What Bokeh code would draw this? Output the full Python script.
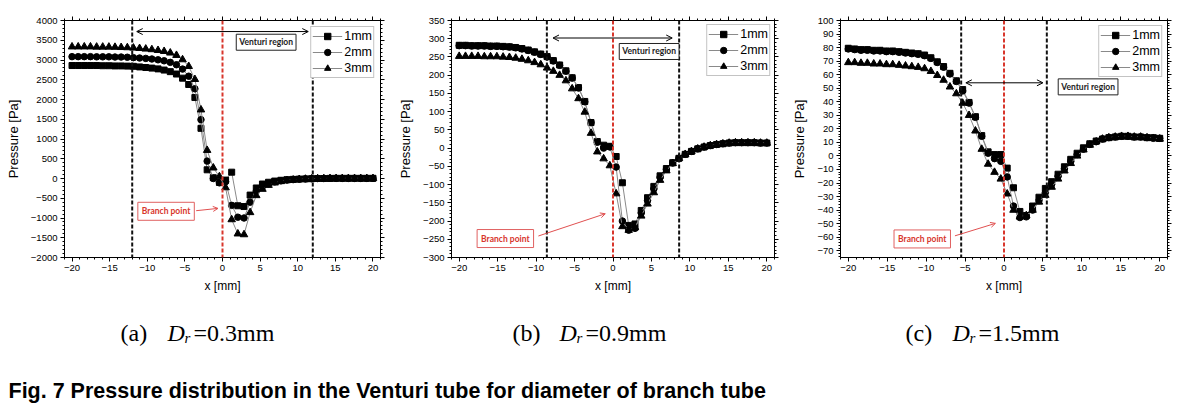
from bokeh.plotting import figure
from bokeh.models import (Range1d, LinearAxis, SingleIntervalTicker, Span, Arrow,
                          OpenHead, Label, CustomLabelingPolicy)
from bokeh.layouts import column, row
from bokeh.embed import file_html
from bokeh.resources import INLINE
from bokeh.core.properties import value

# ---------------- data ----------------
x_mm = [-20.00, -19.18, -18.37, -17.55, -16.73, -15.92, -15.10, -14.29, -13.47, -12.65,
        -11.84, -11.02, -10.20, -9.39, -8.57, -7.76, -6.94, -6.12, -5.31, -4.49,
        -3.67, -2.86, -2.04, -1.22, -0.41, 0.41, 1.22, 2.04, 2.86, 3.67,
        4.49, 5.31, 6.12, 6.94, 7.76, 8.57, 9.39, 10.20, 11.02, 11.84,
        12.65, 13.47, 14.29, 15.10, 15.92, 16.73, 17.55, 18.37, 19.18, 20.00]

series_names = ["1mm", "2mm", "3mm"]

p_a_1mm = [2860, 2860, 2860, 2860, 2860, 2855, 2855, 2850, 2850, 2845,
           2840, 2825, 2810, 2795, 2775, 2745, 2705, 2645, 2540, 2380,
           2050, 1270, 220, 20, -100, -40, 160, -690, -710, -420,
           -240, -140, -95, -65, -45, -30, -22, -15, -10, -5,
           0, 0, 3, 5, 5, 5, 5, 5, 5, 5]
p_a_2mm = [3085, 3085, 3085, 3085, 3080, 3080, 3080, 3075, 3075, 3070,
           3060, 3050, 3040, 3025, 3005, 2980, 2940, 2880, 2770, 2590,
           2270, 1490, 440, 0, -110, -80, -680, -980, -1000, -600,
           -320, -200, -130, -85, -60, -40, -28, -18, -10, -5,
           0, 0, 2, 3, 3, 3, 3, 3, 3, 3]
p_a_3mm = [3335, 3335, 3335, 3335, 3330, 3330, 3330, 3325, 3320, 3315,
           3305, 3295, 3280, 3265, 3245, 3220, 3180, 3120, 3010, 2840,
           2510, 1740, 715, 270, 50, -230, -1040, -1400, -1420, -860,
           -430, -270, -170, -110, -75, -50, -35, -22, -14, -8,
           -3, 0, 2, 3, 3, 3, 3, 3, 3, 3]

p_b_1mm = [282, 282, 281, 281, 281, 280, 280, 279, 278, 276,
           273, 269, 264, 258, 251, 240, 228, 212, 193, 166,
           128, 70, 18, 8, 5, -23, -95, -212, -208, -171,
           -136, -105, -76, -56, -40, -28, -17, -9, -2, 3,
           7, 10, 12, 14, 15, 15, 15, 15, 14, 14]
p_b_2mm = [281, 281, 280, 280, 280, 279, 279, 278, 277, 275,
           272, 268, 263, 257, 250, 239, 227, 211, 192, 165,
           127, 70, 16, 0, 3, -52, -200, -225, -220, -178,
           -144, -112, -80, -58, -41, -28, -17, -9, -2, 3,
           7, 10, 12, 14, 15, 15, 15, 15, 14, 14]
p_b_3mm = [252, 252, 252, 252, 251, 251, 251, 250, 249, 247,
           244, 240, 235, 229, 220, 211, 200, 185, 163, 136,
           99, 41, -10, -29, -48, -125, -215, -225, -218, -186,
           -153, -122, -88, -62, -42, -28, -17, -9, -2, 3,
           7, 10, 12, 14, 15, 15, 15, 15, 14, 14]

p_c_1mm = [79.5, 79, 78.5, 78.5, 78, 78, 77.5, 77.5, 77, 76.5,
           76, 75.5, 74.5, 72.5, 69.5, 66, 61, 55.5, 49, 39.5,
           29, 15, 3, 1, 1, -9, -23.5, -41, -44, -37,
           -30.5, -24, -19, -13.5, -8, -2.5, 2, 6, 9, 11,
           12.5, 13.5, 14, 14.5, 14.5, 14, 14, 13.5, 13.5, 13]
p_c_2mm = [79, 78.5, 78, 78, 77.5, 77.5, 77, 77, 76.5, 76,
           75.5, 75, 74, 72, 69, 65.5, 60.5, 55, 48, 39,
           28.5, 14.5, 2, -2, -4, -15.5, -37, -45.5, -45, -40,
           -33, -27, -21, -15, -9.5, -4, 1, 5, 8.5, 10.5,
           12.5, 13.5, 14, 14.5, 14.5, 14, 14, 13.5, 13, 13]
p_c_3mm = [69, 69, 68.5, 68.5, 68, 68, 67.5, 67.5, 67, 66.5,
           66, 65.5, 64.5, 62.5, 59.5, 56, 51, 46, 39, 30,
           18.5, 5, -6, -12, -17, -28, -40, -45, -44, -40,
           -34, -29, -23, -17, -11, -5.5, 0, 4.5, 8, 10.5,
           12.5, 13.5, 14, 14.5, 14.5, 14, 14, 13.5, 13, 12.5]

venturi_half = [12.0, 8.6, 5.5]          # venturi region boundaries (mm)
captions_dr = ["0.3mm", "0.9mm", "1.5mm"]
caption_tags = ["(a)", "(b)", "(c)"]
title_text = "Fig. 7 Pressure distribution in the Venturi tube for  diameter of branch tube"

# ---------------- styling ----------------
FONT = "Liberation Sans"
RED = "#d8362c"
markers = ["square", "circle", "triangle"]
msizes = [6, 6.5, 7.5]

panels = [
    dict(ys=[p_a_1mm, p_a_2mm, p_a_3mm], yr=(-2000, 4000), yt=500,
         w=390, bl=64, br=8, bt=20, bb=40, vh=venturi_half[0],
         arr=(-11.4, 11.4, 3720), vbox=(5.8, 3450), bbox=(-7.5, -830),
         barr=(-3.5, -815, -0.6, -757), lmargin=6),
    dict(ys=[p_b_1mm, p_b_2mm, p_b_3mm], yr=(-300, 350), yt=50,
         w=395, bl=61, br=11, bt=17, bb=41, vh=venturi_half[1],
         arr=(-7.8, 7.7, 302), vbox=(4.7, 265), bbox=(-14.0, -248),
         barr=(-9.7, -241, -1.0, -180), lmargin=4),
    dict(ys=[p_c_1mm, p_c_2mm, p_c_3mm], yr=(-75, 100), yt=10,
         w=402, bl=55, br=20, bt=15, bb=40, vh=venturi_half[2],
         arr=(-4.9, 5.0, 54), vbox=(10.8, 51), bbox=(-10.5, -61.3),
         barr=(-6.3, -59, -1.1, -49.8), lmargin=5),
]


def style_axis(ax, labels=True):
    ax.axis_line_color = "black"
    ax.major_tick_line_color = "black"
    ax.minor_tick_line_color = "black"
    ax.major_tick_out = 4
    ax.major_tick_in = 0
    ax.minor_tick_out = 2
    ax.minor_tick_in = 0
    if labels:
        ax.major_label_text_font = FONT
        ax.major_label_text_font_size = "9.5px"
        ax.major_label_text_color = "black"
        ax.major_label_standoff = 3
    else:
        ax.major_label_text_font_size = "1px"
        ax.major_label_standoff = 0
        ax.major_label_policy = CustomLabelingPolicy(code="return new Set()")


figs = []
for cfg in panels:
    p = figure(width=cfg["w"], height=298, x_range=Range1d(-21, 21),
               y_range=Range1d(*cfg["yr"]), output_backend="svg",
               toolbar_location=None, min_border_left=cfg["bl"],
               min_border_right=cfg["br"], min_border_top=cfg["bt"],
               min_border_bottom=cfg["bb"])
    p.grid.visible = False
    p.outline_line_color = "black"
    p.background_fill_color = "white"

    p.xaxis[0].ticker = SingleIntervalTicker(interval=5, num_minor_ticks=5)
    p.yaxis[0].ticker = SingleIntervalTicker(interval=cfg["yt"], num_minor_ticks=5)
    style_axis(p.xaxis[0])
    style_axis(p.yaxis[0])
    p.xaxis[0].axis_label = "x [mm]"
    p.yaxis[0].axis_label = "Pressure [Pa]"
    for ax, sz, so in ((p.xaxis[0], "12px", 5), (p.yaxis[0], "13px", 7)):
        ax.axis_label_text_font = FONT
        ax.axis_label_text_font_size = sz
        ax.axis_label_text_font_style = "normal"
        ax.axis_label_text_color = "black"
        ax.axis_label_standoff = so
    top = LinearAxis(ticker=SingleIntervalTicker(interval=5, num_minor_ticks=5))
    right = LinearAxis(ticker=SingleIntervalTicker(interval=cfg["yt"], num_minor_ticks=5))
    style_axis(top, labels=False)
    style_axis(right, labels=False)
    p.add_layout(top, "above")
    p.add_layout(right, "right")

    # venturi boundaries and branch point
    for loc in (-cfg["vh"], cfg["vh"]):
        p.add_layout(Span(location=loc, dimension="height", line_color="#111111",
                          line_width=2, line_dash="4 2"))
    p.add_layout(Span(location=0, dimension="height", line_color=RED,
                      line_width=2, line_dash="4 2"))

    # series
    for name, ys, mk, ms in zip(series_names, cfg["ys"], markers, msizes):
        p.line(x_mm, ys, line_color="#8a8a8a", line_width=1, legend_label=name)
        p.scatter(x_mm, ys, marker=mk, size=ms, fill_color="black",
                  line_color="black", legend_label=name)

    # venturi arrow + label
    x0, x1, ya = cfg["arr"]
    p.add_layout(Arrow(start=OpenHead(size=6, line_width=1, line_color="black"),
                       end=OpenHead(size=6, line_width=1, line_color="black"),
                       x_start=x0, x_end=x1, y_start=ya, y_end=ya,
                       line_color="black", line_width=1))
    vx, vy = cfg["vbox"]
    p.add_layout(Label(x=vx, y=vy, text="Venturi region", text_align="center",
                       text_baseline="middle", text_font="Lato",
                       text_font_size="8.5px", text_font_style="bold",
                       text_color="#222222", border_line_color="#222222",
                       border_line_width=1, background_fill_color="white",
                       padding=3))
    bx, by = cfg["bbox"]
    p.add_layout(Label(x=bx, y=by, text="Branch point", text_align="center",
                       text_baseline="middle", text_font="Lato",
                       text_font_size="8.5px", text_font_style="bold",
                       text_color=RED, border_line_color="#e06060",
                       border_line_width=1, background_fill_color="white",
                       padding=4))
    a0, b0, a1, b1 = cfg["barr"]
    p.add_layout(Arrow(end=OpenHead(size=5, line_width=1, line_color="#e05050"),
                       x_start=a0, y_start=b0, x_end=a1, y_end=b1,
                       line_color="#e05050", line_width=1))

    lg = p.legend[0]
    lg.location = "top_right"
    lg.margin = cfg["lmargin"]
    lg.label_text_font = FONT
    lg.label_text_font_size = "12.5px"
    lg.label_text_color = "black"
    lg.glyph_width = 30
    lg.glyph_height = 16
    lg.label_height = 16
    lg.label_width = 20
    lg.spacing = 0
    lg.padding = 1
    lg.label_standoff = 2
    lg.border_line_color = "#888888"
    lg.border_line_width = 1
    lg.background_fill_alpha = 1.0
    figs.append(p)

# ---------------- captions ----------------
cap = figure(width=1187, height=108, x_range=Range1d(0, 1187), y_range=Range1d(108, 0),
             output_backend="svg", toolbar_location=None, min_border=0,
             x_axis_type=None, y_axis_type=None)
cap.grid.visible = False
cap.outline_line_color = None

offsets = [120, 512, 905]
for off, tag, dr in zip(offsets, caption_tags, captions_dr):
    cap.text(x=[off], y=[34], text=[tag], text_font=value("Liberation Serif"),
             text_font_size="24px", text_baseline="alphabetic", text_color="black")
    cap.text(x=[off + 47], y=[34], text=["D"], text_font=value("Liberation Serif"),
             text_font_size="24px", text_font_style="italic",
             text_baseline="alphabetic", text_color="black")
    cap.text(x=[off + 64], y=[39], text=["r"], text_font=value("Liberation Serif"),
             text_font_size="15px", text_font_style="italic",
             text_baseline="alphabetic", text_color="black")
    cap.text(x=[off + 73], y=[34], text=["=" + dr], text_font=value("Liberation Serif"),
             text_font_size="24px", text_baseline="alphabetic", text_color="black")

cap.text(x=[8], y=[92], text=[title_text], text_font=value("Liberation Sans"),
         text_font_size="21.5px", text_font_style="bold", text_baseline="alphabetic",
         text_color="black")

layout = column(row(*figs), cap)
open("out.html", "w").write(file_html(layout, INLINE))
